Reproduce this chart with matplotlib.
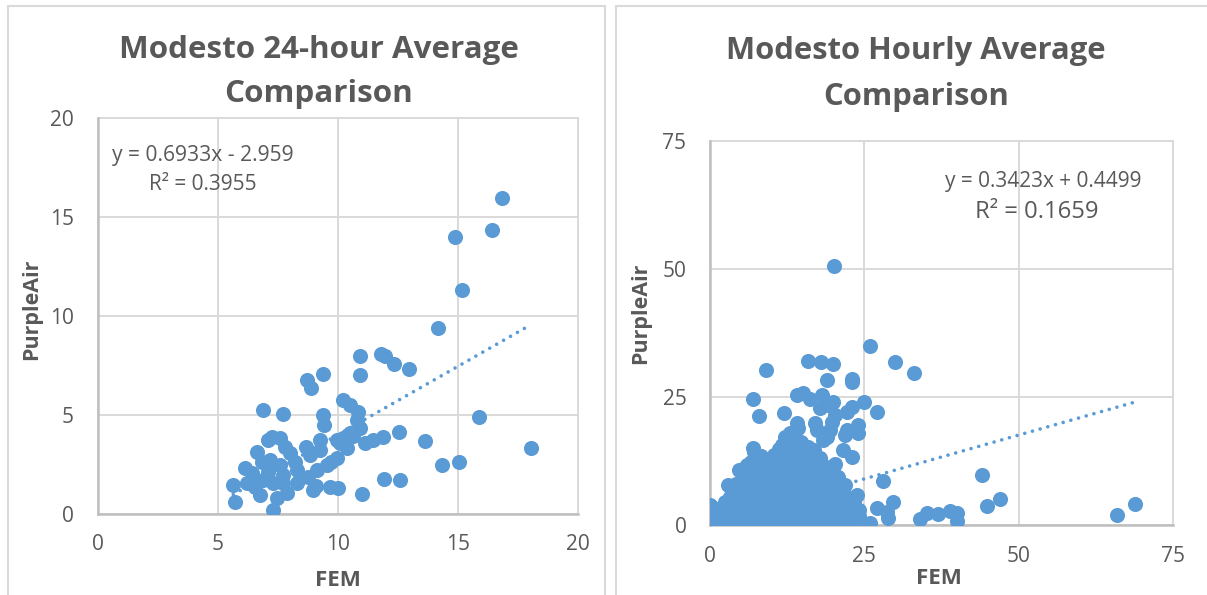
import matplotlib
matplotlib.use("Agg")
import matplotlib.pyplot as plt
from matplotlib.patches import Rectangle
import numpy as np

# ---------------- data ----------------
left_title = ["Modesto 24-hour Average", "Comparison"]
right_title = ["Modesto Hourly Average", "Comparison"]
x_label = "FEM"
y_label = "PurpleAir"

left_xticks = [0, 5, 10, 15, 20]
left_yticks = [0, 5, 10, 15, 20]
right_xticks = [0, 25, 50, 75]
right_yticks = [0, 25, 50, 75]

left_eq = "y = 0.6933x - 2.959"
left_r2 = "R² = 0.3955"
left_slope, left_intercept = 0.6933, -2.959
right_eq = "y = 0.3423x + 0.4499"
right_r2 = "R² = 0.1659"
right_slope, right_intercept = 0.3423, 0.4499

left_fem = [16.84, 14.87, 16.40, 15.17, 14.16, 10.94, 11.81, 11.95, 12.35, 12.96,
            10.94, 9.40, 8.73, 8.90, 6.90, 7.73, 10.23, 10.50, 10.85, 10.79,
            10.92, 9.40, 9.44, 15.89, 18.04, 12.56, 13.63, 11.89, 11.48, 11.13,
            10.51, 10.23, 9.95, 10.37, 14.32, 15.06, 11.92, 12.59, 11.02, 10.02,
            9.68, 9.26, 8.68, 8.84, 9.54, 9.95, 9.12, 8.77, 8.98, 9.10,
            8.29, 7.87, 7.73, 7.32, 7.46, 6.76, 6.55, 6.90, 7.32, 5.72,
            5.65, 6.14, 6.42, 6.62, 7.11, 7.25, 7.59, 7.80, 8.01, 8.22,
            7.18, 6.83, 7.59, 7.73, 9.26, 8.29, 7.11, 6.21, 10.62, 10.10, 9.70]
left_purpleair = [15.97, 13.96, 14.34, 11.29, 9.38, 7.97, 8.07, 7.97, 7.58, 7.33,
                  7.00, 7.04, 6.75, 6.33, 5.24, 5.02, 5.74, 5.50, 5.15, 4.73,
                  4.31, 4.98, 4.48, 4.88, 3.31, 4.14, 3.67, 3.85, 3.72, 3.55,
                  4.06, 3.80, 3.72, 3.30, 2.45, 2.59, 1.73, 1.70, 0.99, 1.27,
                  1.36, 3.72, 3.38, 2.96, 2.45, 2.79, 2.20, 1.86, 1.19, 1.40,
                  1.53, 1.02, 1.53, 0.18, 0.77, 0.94, 1.36, 1.69, 1.53, 0.60,
                  1.44, 2.29, 2.03, 3.13, 3.72, 3.89, 3.80, 3.38, 3.04, 2.62,
                  2.71, 2.62, 2.45, 1.95, 3.21, 2.20, 2.11, 1.53, 3.90, 3.55, 2.60]

# hourly: scattered outliers
right_fem_outer = [20.04, 25.95, 29.9, 32.98, 15.94, 17.99, 19.99, 9.02, 19.0, 22.96,
                   22.96, 14.05, 15.13, 16.2, 18.1, 7.02, 7.99, 11.99, 19.99, 17.83,
                   19.17, 24.96, 27.01, 22.97, 22.15, 24.04, 24.04, 22.15, 21.9, 20.26,
                   19.72, 19.45, 18.9, 17.02, 17.3, 18.36, 14.05, 12.97, 12.16, 11.6,
                   20.26, 21.6, 22.97, 7.02, 5.95, 2.97, 0.0, 27.99, 23.77, 27.0,
                   29.7, 28.9, 25.9, 21.88, 22.15, 44.03, 28.6, 34.04, 35.1, 37.0,
                   38.9, 40.08, 39.97, 44.94, 47.0, 66.0, 68.88, 24.1]
right_pa_outer = [50.55, 34.9, 31.9, 29.71, 32.0, 31.9, 31.4, 30.3, 28.3, 28.6,
                  28.0, 25.4, 25.7, 24.7, 25.4, 24.7, 21.3, 21.9, 24.1, 22.8,
                  23.4, 24.1, 22.1, 23.1, 22.1, 19.5, 17.9, 18.55, 17.6, 21.5,
                  20.2, 18.55, 17.2, 19.9, 18.55, 16.6, 19.9, 17.9, 17.2, 15.6,
                  12.0, 14.6, 13.3, 15.0, 11.7, 7.8, 3.9, 8.6, 5.86, 3.26,
                  4.55, 1.3, 0.33, 7.8, 4.24, 9.77, 2.6, 1.1, 2.4, 2.15,
                  2.73, 2.29, 0.84, 3.78, 5.0, 1.95, 4.1, 1.8]

# hourly: dense core of readings
right_fem_core = [0.2, 0.5, 0.3, 1.0, 1.2, 1.8, 2.2, 2.5, 3.0, 3.4, 3.8, 4.1, 4.4, 4.6, 4.9,
                  5.2, 5.5, 5.6, 5.8, 6.0, 6.1, 6.3, 6.4, 6.6, 6.8, 6.9, 7.0, 7.2, 7.3, 7.5,
                  7.7, 7.9, 8.0, 8.2, 8.3, 8.5, 8.7, 8.9, 9.1, 9.2, 9.4, 9.5, 9.7, 9.9, 10.0,
                  10.2, 10.4, 10.5, 10.7, 10.9, 11.0, 11.2, 11.3, 11.5, 11.7, 11.9, 12.0, 12.2, 12.3, 12.5,
                  12.6, 12.8, 13.0, 13.1, 13.3, 13.4, 13.6, 13.7, 13.9, 14.0, 14.2, 14.3, 14.5, 14.6, 14.8,
                  14.9, 15.1, 15.2, 15.4, 15.6, 15.7, 15.9, 16.0, 16.2, 16.4, 16.5, 16.7, 16.9, 17.0, 17.2,
                  17.4, 17.6, 17.8, 18.0, 18.2, 18.3, 18.5, 18.7, 18.9, 19.1, 19.3, 19.5, 19.7, 19.9, 20.1,
                  20.3, 20.5, 20.8, 21.0, 21.3, 21.5, 21.8, 22.2, 22.5, 22.9, 23.3, 23.8, 24.2,
                  0.1, 0.4, 0.9, 1.4, 1.7, 2.0, 2.8, 3.2, 3.6, 3.9, 4.2, 4.7, 5.0, 5.3,
                  2.4, 3.5, 1.1, 4.5, 6.7, 8.6, 9.8, 11.6, 12.9, 15.5, 17.1, 19.0, 20.6]
right_pa_core = [0.5, 1.5, 2.8, 0.3, 1.8, 0.8, 2.4, 0.2, 1.2, 3.0, 0.4, 2.0, 4.6, 6.5, 0.9,
                 3.3, 8.4, 1.6, 5.4, 10.2, 0.3, 2.7, 7.1, 12.3, 4.2, 9.0, 1.1, 14.2, 6.0, 11.2,
                 2.9, 8.3, 0.5, 13.5, 4.9, 10.4, 1.9, 7.0, 12.4, 3.6, 0.2, 9.4, 5.6, 11.8, 1.4,
                 7.8, 13.6, 3.2, 10.0, 0.6, 5.9, 14.8, 8.6, 2.4, 12.0, 4.5, 10.2, 0.9, 16.0, 7.1,
                 13.4, 2.8, 9.5, 5.0, 17.4, 11.6, 0.4, 14.9, 7.6, 3.4, 18.9, 12.6, 9.8, 1.6, 16.2,
                 5.5, 13.9, 0.7, 8.1, 11.0, 3.0, 15.3, 6.4, 1.2, 9.3, 12.8, 4.1, 14.6, 0.3, 7.4,
                 10.7, 2.2, 13.1, 5.2, 8.9, 0.8, 11.5, 3.6, 6.8, 10.1, 1.5, 4.7, 8.0, 11.2, 2.6,
                 6.1, 0.4, 9.3, 4.0, 1.7, 7.2, 3.1, 0.6, 5.3, 2.0, 4.2, 1.0, 2.9,
                 1.0, 3.6, 2.2, 0.6, 3.1, 1.4, 2.2, 5.4, 6.8, 3.9, 8.0, 10.8, 5.2, 11.0,
                 4.5, 1.8, 0.2, 2.5, 0.2, 0.3, 0.2, 0.3, 0.2, 0.3, 0.3, 0.2, 0.3]

right_fem = right_fem_outer + right_fem_core
right_purpleair = right_pa_outer + right_pa_core

# ---------------- style ----------------
BLUE = "#5B9BD5"
TXT = "#595959"
GRID = "#D9D9D9"
AXIS = "#BFBFBF"
FONT = ["Open Sans", "DejaVu Sans"]

W, H = 1207, 595
fig = plt.figure(figsize=(W / 100, H / 100), dpi=100)
fig.patch.set_facecolor("white")
renderer = fig.canvas.get_renderer()


def fx(px):
    return px / W


def fy(py):
    return 1 - py / H


def text_fit(cx, cy, s, target, size0, rotation=0, **kw):
    """Place text centred at pixel (cx, cy), scaled so its long side is `target` px."""
    t = fig.text(fx(cx), fy(cy), s, ha="center", va="center", fontsize=size0,
                 color=TXT, family=FONT, rotation=rotation, **kw)
    bb = t.get_window_extent(renderer=renderer)
    cur = bb.height if rotation == 90 else bb.width
    t.set_fontsize(size0 * target / cur)
    return t


# panel borders
fig.add_artist(Rectangle((fx(8), fy(640)), fx(597), fy(6) - fy(640), transform=fig.transFigure,
                         fill=False, edgecolor=GRID, linewidth=1.5))
fig.add_artist(Rectangle((fx(616), fy(640)), fx(640), fy(6) - fy(640), transform=fig.transFigure,
                         fill=False, edgecolor=GRID, linewidth=1.5))


def setup(ax, xticks, yticks):
    ax.set_xlim(xticks[0], xticks[-1])
    ax.set_ylim(yticks[0], yticks[-1])
    ax.set_xticks(xticks)
    ax.set_yticks(yticks)
    ax.grid(True, color=GRID, linewidth=1.4)
    ax.set_axisbelow(True)
    for s in ["top", "right"]:
        ax.spines[s].set_visible(False)
    for s in ["left", "bottom"]:
        ax.spines[s].set_color(AXIS)
        ax.spines[s].set_linewidth(1.8)
    ax.tick_params(length=0, labelsize=15, labelcolor=TXT)
    ax.tick_params(axis="x", pad=15)
    ax.tick_params(axis="y", pad=17)
    for lab in ax.get_xticklabels() + ax.get_yticklabels():
        lab.set_fontfamily(FONT)
    for gl in ax.get_xgridlines() + ax.get_ygridlines():
        gl.set_clip_on(False)


def trend(ax, xs, slope, intercept):
    xx = np.array([min(xs), max(xs)])
    ax.plot(xx, slope * xx + intercept, color=BLUE, linewidth=2.6,
            linestyle=(0, (0.01, 2.2)), dash_capstyle="round", zorder=4)


# left axes
axL = fig.add_axes([fx(97.5), fy(513.5), fx(578) - fx(97.5), fy(118) - fy(513.5)])
setup(axL, left_xticks, left_yticks)
axL.scatter(left_fem, left_purpleair, s=118, color=BLUE, linewidths=0, zorder=3)
trend(axL, left_fem, left_slope, left_intercept)

# right axes
axR = fig.add_axes([fx(710), fy(525), fx(1173) - fx(710), fy(141) - fy(525)])
setup(axR, right_xticks, right_yticks)
axR.scatter(right_fem, right_purpleair, s=118, color=BLUE, linewidths=0, zorder=3)
trend(axR, right_fem, right_slope, right_intercept)

# titles (two lines each)
t1 = text_fit(319, 50, left_title[0], 400, 20, fontweight="bold")
fig.text(fx(319), fy(94), left_title[1], ha="center", va="center", fontsize=t1.get_fontsize(),
         fontweight="bold", color=TXT, family=FONT)
t2 = text_fit(916, 51, right_title[0], 380, 20, fontweight="bold")
fig.text(fx(916), fy(97), right_title[1], ha="center", va="center", fontsize=t2.get_fontsize(),
         fontweight="bold", color=TXT, family=FONT)

# axis labels
text_fit(338, 580, x_label, 46, 16, fontweight="bold")
text_fit(938.5, 578.5, x_label, 46, 16, fontweight="bold")
text_fit(32, 309, y_label, 102, 16, rotation=90, fontweight="bold")
text_fit(641, 313, y_label, 102, 16, rotation=90, fontweight="bold")

# trendline equations
text_fit(203, 155, left_eq, 181, 15)
text_fit(203, 185, left_r2, 108, 15)
text_fit(1043.5, 182, right_eq, 197, 15)
text_fit(1036.5, 212, right_r2, 123, 15)

fig.savefig("out.png", dpi=100, facecolor="white")
